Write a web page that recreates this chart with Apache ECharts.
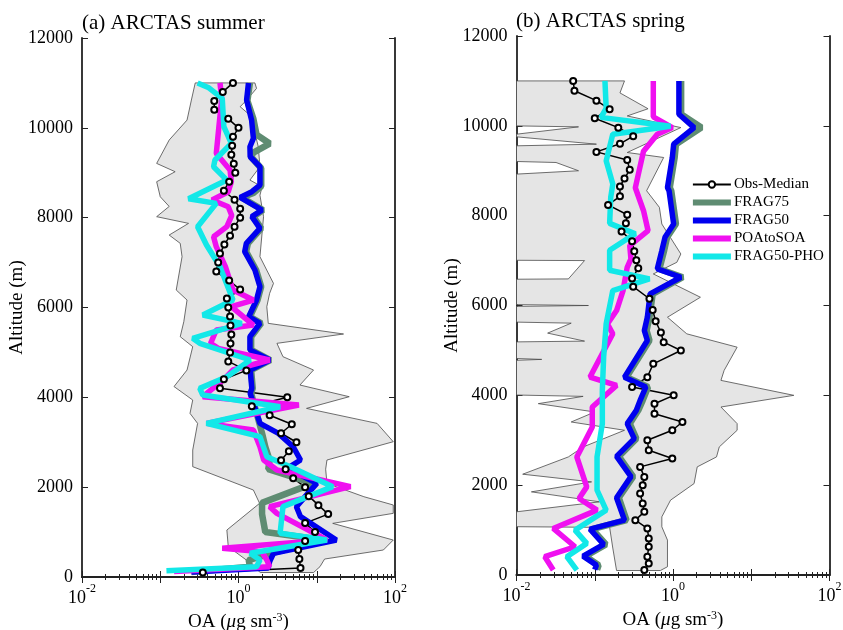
<!DOCTYPE html>
<html>
<head>
<meta charset="utf-8">
<title>ARCTAS OA profiles</title>
<script src="https://cdn.jsdelivr.net/npm/echarts@6/dist/echarts.min.js"></script>
<style>
  html, body { margin: 0; padding: 0; background: #fff; }
  #chart { width: 843px; height: 630px; }
</style>
</head>
<body>
<div id="chart"></div>
<script>
// ---- data: [OA (ug sm-3), altitude (m)] ----

// (a) ARCTAS summer
const sumBandLow = [[1.9, 100], [1.26, 378], [0.74, 675], [0.71, 1046], [1.86, 1640], [1.55, 1936], [0.26, 2456], [0.26, 2827],
  [0.30, 3420], [0.24, 3643], [0.26, 3940], [0.15, 4240], [0.22, 4608], [0.26, 5128], [0.18, 5350], [0.20, 5684], [0.22, 6166],
  [0.16, 6389], [0.19, 7131], [0.18, 7428], [0.13, 7613], [0.23, 7873], [0.09, 8022], [0.13, 8250], [0.10, 8466], [0.09, 8800],
  [0.155, 9023], [0.09, 9208], [0.13, 9728], [0.22, 10173], [0.25, 10618], [0.28, 11000]];
const sumBandHigh = [[9.1, 100], [11, 230], [12.6, 400], [71, 601], [95, 823], [16, 1194], [95, 1417], [95, 1603], [40, 1788],
  [13.5, 2085], [13, 2400], [13.5, 2604], [95, 3012], [59, 3420], [7.4, 3754], [26, 4014], [6.1, 4274], [9.1, 4608], [3.7, 4905],
  [3.1, 5202], [22, 5410], [2.4, 5647], [2.3, 6018], [2.5, 6315], [2.8, 6537], [1.88, 7131], [2.09, 8022], [1.88, 8500], [2.0, 8689],
  [1.40, 8837], [1.88, 9134], [1.79, 9579], [1.55, 10025], [1.40, 10284], [1.05, 10470], [1.27, 10618], [1.70, 10878], [1.62, 11000]];
const sumObs = [[0.35, 100], [6.2, 200], [6.0, 400], [5.8, 600], [7.1, 800], [9.5, 1000], [7.1, 1200], [14, 1400], [10.5, 1600],
  [7.9, 1800], [7.1, 2000], [5.0, 2200], [4.0, 2400], [3.5, 2600], [4.4, 2800], [5.5, 3000], [3.5, 3200], [4.8, 3400], [2.5, 3600],
  [1.48, 3800], [4.2, 4000], [0.58, 4200], [0.65, 4400], [1.26, 4600], [0.74, 4800], [0.78, 5000], [0.79, 5200], [0.81, 5400],
  [0.79, 5600], [0.78, 5800], [0.74, 6000], [0.71, 6200], [1.05, 6400], [0.76, 6600], [0.52, 6800], [0.55, 7000], [0.58, 7200],
  [0.66, 7400], [0.78, 7600], [0.89, 7800], [1.05, 8000], [1.05, 8200], [0.89, 8400], [0.65, 8600], [0.76, 8800], [0.91, 9000],
  [0.87, 9200], [0.81, 9400], [0.83, 9600], [0.85, 9800], [1.0, 10000], [0.74, 10200], [0.49, 10400], [0.49, 10600], [0.63, 10800],
  [0.85, 11000]];
const sumFrag75 = [[0.25, 110], [1.4, 230], [1.35, 378], [2.6, 527], [12, 823], [2.2, 1000], [2.0, 1400], [2.0, 1650], [9.0, 2085],
  [2.4, 2400], [2.5, 2600], [2.2, 2900], [2.0, 3200], [1.85, 3420], [1.45, 4088], [1.52, 4200], [1.45, 4608], [2.55, 4831],
  [1.45, 5054], [1.45, 5350], [1.95, 5647], [1.40, 5795], [1.75, 6166], [1.95, 6463], [1.68, 6834], [1.25, 7243], [1.32, 7428],
  [1.95, 7762], [1.55, 8022], [2.05, 8170], [1.10, 8450], [1.55, 8550], [1.95, 8700], [1.95, 9100], [1.45, 9350], [1.55, 9450],
  [2.5, 9650], [1.70, 9850], [1.55, 10200], [1.30, 10600], [1.40, 11000]];
const sumFrag50 = [[0.25, 110], [2.4, 200], [2.5, 341], [2.8, 527], [17.8, 823], [6.2, 1343], [5.5, 1566], [10, 2085], [4.2, 2419],
  [6.2, 2604], [5.0, 2901], [3.24, 3198], [1.88, 3420], [1.41, 4088], [1.48, 4200], [1.41, 4608], [2.51, 4831], [1.40, 5054],
  [1.40, 5350], [1.88, 5647], [1.35, 5795], [1.70, 6166], [1.88, 6463], [1.62, 6834], [1.20, 7243], [1.26, 7428], [1.88, 7762],
  [1.48, 8022], [2.0, 8170], [1.05, 8450], [1.48, 8578], [1.88, 8726], [1.88, 9134], [1.41, 9357], [1.40, 9580], [1.55, 9765],
  [1.47, 10173], [1.27, 10618], [1.34, 11000]];
const sumPoaToSoa = [[0.15, 120], [2.5, 230], [2.3, 378], [2.0, 560], [0.62, 640], [13.5, 823], [3.1, 1417], [2.5, 1566], [27, 2011],
  [3.1, 2382], [2.1, 2604], [1.88, 2901], [1.55, 3272], [0.39, 3420], [5.9, 3828], [0.35, 4014], [0.65, 4400], [0.85, 4608],
  [2.5, 4831], [0.55, 5090], [0.44, 5202], [0.52, 5499], [1.55, 5610], [0.81, 6018], [1.55, 6166], [0.85, 6389], [0.68, 6908],
  [0.52, 7354], [0.48, 7576], [0.71, 7800], [0.82, 8050], [0.74, 8244], [0.46, 8392], [0.74, 8578], [0.81, 8800], [0.78, 9060],
  [0.52, 9430], [0.56, 10000], [0.61, 10650], [0.58, 11000]];
const sumFrag50Pho = [[0.12, 141], [1.7, 230], [1.88, 378], [1.41, 527], [13.5, 823], [3.4, 973], [3.7, 1566], [16, 2011],
  [4.6, 2456], [2.3, 2679], [1.88, 3124], [0.39, 3420], [3.4, 3791], [0.35, 4051], [0.32, 4200], [0.71, 4460], [1.41, 4831],
  [0.32, 5202], [0.26, 5313], [1.10, 5647], [0.35, 5832], [0.85, 6166], [0.58, 6908], [0.39, 7391], [0.30, 7799], [0.52, 8318],
  [0.23, 8420], [0.71, 8837], [0.48, 9134], [0.50, 9283], [0.81, 9654], [0.65, 10025], [0.62, 10655], [0.41, 10900], [0.30, 11000]];

// (b) ARCTAS spring
const sprBandLow = [[0.19, 100], [0.17, 600], [0.155, 1059], [0.01, 1075], [0.01, 1407], [0.115, 1629], [0.0155, 1851],
  [0.091, 2073], [0.012, 2244], [0.046, 2629], [0.071, 2851], [0.24, 3222], [0.05, 3407], [0.10, 3629], [0.019, 3815],
  [0.071, 3977], [0.01, 4007], [0.01, 4780], [0.021, 4800], [0.01, 4820], [0.01, 5190], [0.074, 5207], [0.025, 5385],
  [0.05, 5607], [0.01, 5630], [0.01, 5980], [0.083, 6000], [0.01, 6020], [0.01, 6585], [0.046, 6592], [0.074, 7000],
  [0.01, 7007], [0.01, 8925], [0.062, 9000], [0.032, 9184], [0.01, 9206], [0.01, 9555], [0.105, 9592], [0.01, 9755],
  [0.01, 9814], [0.062, 9977], [0.01, 9999], [0.01, 11000]];
const sprBandHigh = [[0.69, 100], [0.85, 184], [0.85, 777], [0.72, 1073], [0.72, 1295], [0.93, 1666], [1.86, 2036], [2.04, 2407],
  [3.6, 2629], [3.9, 2851], [6.6, 3222], [6.6, 3370], [4.1, 3740], [35, 4000], [4.1, 4333], [4.5, 4554], [6.6, 5072], [1.5, 5369],
  [0.85, 5739], [2.24, 6184], [0.56, 6703], [1.12, 6962], [1.26, 7147], [0.72, 7814], [0.67, 8185], [0.46, 8555], [0.76, 9295],
  [0.26, 9406], [1.26, 9961], [0.26, 10220], [0.48, 10380], [0.21, 10733], [0.24, 11000]];
const sprObs = [[0.43, 110], [0.49, 258], [0.47, 406], [0.49, 628], [0.49, 814], [0.47, 1036], [0.33, 1221], [0.43, 1406],
  [0.41, 1592], [0.38, 1814], [0.41, 1999], [0.43, 2184], [0.38, 2407], [0.98, 2592], [0.49, 2777], [0.47, 2999], [0.98, 3222],
  [1.32, 3407], [0.58, 3592], [0.58, 3814], [1.02, 4000], [0.30, 4185], [0.47, 4405], [0.56, 4702], [1.26, 4998], [0.76, 5183],
  [0.70, 5400], [0.60, 5650], [0.55, 5900], [0.50, 6150], [0.31, 6420], [0.30, 6600], [0.36, 6830], [0.34, 7010], [0.32, 7210],
  [0.30, 7430], [0.22, 7650], [0.25, 7830], [0.26, 8020], [0.148, 8240], [0.21, 8430], [0.21, 8650], [0.24, 8830], [0.28, 9020],
  [0.26, 9240], [0.105, 9420], [0.21, 9600], [0.31, 9770], [0.20, 9960], [0.10, 10170], [0.155, 10370], [0.105, 10560],
  [0.055, 10780], [0.053, 11000]];
const sprFrag75 = [[0.107, 120], [0.112, 220], [0.076, 420], [0.139, 680], [0.093, 1020], [0.255, 1220], [0.203, 1720],
  [0.31, 2190], [0.203, 2640], [0.34, 3036], [0.28, 3370], [0.36, 3666], [0.41, 3888], [0.48, 4185], [0.255, 4405], [0.50, 5221],
  [0.46, 5443], [0.50, 5739], [0.55, 6258], [1.33, 6629], [0.67, 6814], [0.77, 7221], [0.84, 7518], [1.09, 7814], [0.95, 8555],
  [0.91, 8628], [1.05, 9295], [1.09, 9591], [2.3, 9961], [1.27, 10258], [1.27, 11000]];
const sprFrag50 = [[0.10, 120], [0.105, 220], [0.071, 420], [0.13, 680], [0.087, 1020], [0.24, 1220], [0.19, 1720], [0.29, 2190],
  [0.19, 2640], [0.32, 3036], [0.26, 3370], [0.34, 3666], [0.38, 3888], [0.45, 4185], [0.24, 4405], [0.47, 5221], [0.43, 5443],
  [0.47, 5739], [0.51, 6258], [1.26, 6629], [0.63, 6814], [0.72, 7221], [0.79, 7518], [1.02, 7814], [0.89, 8555], [0.85, 8628],
  [0.98, 9295], [1.02, 9591], [1.86, 9961], [1.19, 10258], [1.19, 11000]];
const sprPoaToSoa = [[0.0295, 110], [0.023, 407], [0.056, 629], [0.0295, 1037], [0.107, 1444], [0.063, 1703], [0.079, 1962],
  [0.059, 2629], [0.093, 3296], [0.093, 3740], [0.19, 4222], [0.087, 4407], [0.17, 5369], [0.145, 5591], [0.19, 5888],
  [0.23, 6333], [0.26, 6851], [0.29, 7037], [0.28, 7333], [0.48, 7666], [0.42, 8110], [0.33, 8622], [0.42, 9436], [0.63, 9813],
  [0.98, 9961], [0.56, 10200], [0.56, 11000]];
const sprFrag50Pho = [[0.059, 110], [0.044, 407], [0.079, 704], [0.056, 1000], [0.14, 1444], [0.107, 1888], [0.107, 2629],
  [0.125, 3370], [0.125, 4111], [0.13, 4852], [0.14, 5592], [0.17, 6333], [0.50, 6592], [0.155, 6784], [0.155, 7229],
  [0.33, 7599], [0.155, 7829], [0.16, 8407], [0.17, 8703], [0.14, 9221], [0.17, 9814], [0.93, 9990], [0.12, 10188],
  [0.14, 10388], [0.135, 11000]];

const panelTitles = ['(a) ARCTAS summer', '(b) ARCTAS spring'];
const seriesNames = ['Obs-Median', 'FRAG75', 'FRAG50', 'POAtoSOA', 'FRAG50-PHO'];

// ---- chart ----
const FONT = '"Liberation Serif", "Times New Roman", serif';
const AXIS_COLOR = '#222';
const COLORS = {
  'Obs-Median': '#000000',
  'FRAG75': '#5f8c72',
  'FRAG50': '#0000ee',
  'POAtoSOA': '#f010f0',
  'FRAG50-PHO': '#12e8e8'
};
const BAR_ICON = 'path://M0,0H38V6H0Z';

const grids = [
  { left: 82, top: 38, width: 313, height: 539 },
  { left: 516.5, top: 36, width: 313, height: 539 }
];

function expLabel(value) {
  const e = Math.round(Math.log10(value));
  if (e % 2 !== 0) return '';
  return '{b|10}{e|' + e + '}';
}

const labelRich = {
  b: { fontFamily: FONT, fontSize: 18, color: '#000', lineHeight: 24, verticalAlign: 'bottom' },
  e: { fontFamily: FONT, fontSize: 12, color: '#000', lineHeight: 12, verticalAlign: 'top' }
};

const nameRich = {
  n: { fontFamily: FONT, fontSize: 19, color: '#000', lineHeight: 20, verticalAlign: 'bottom' },
  mu: { fontFamily: FONT, fontSize: 19, fontStyle: 'italic', color: '#000', lineHeight: 20, verticalAlign: 'bottom' },
  sup: { fontFamily: FONT, fontSize: 12, color: '#000', lineHeight: 10, verticalAlign: 'top' }
};

const xAxis = [];
const yAxis = [];
[0, 1].forEach(function (g) {
  const tick = { show: true, inside: true, length: 6, lineStyle: { color: AXIS_COLOR, width: 1 } };
  const minor = { show: true, splitNumber: 9, length: 3, lineStyle: { color: AXIS_COLOR, width: 1 } };
  const line = { show: true, lineStyle: { color: AXIS_COLOR, width: 1.8 } };
  xAxis.push({
    type: 'log', logBase: 10, gridIndex: g, min: 0.01, max: 100, splitNumber: 4, position: 'bottom',
    axisLine: line, axisTick: tick, minorTick: minor, splitLine: { show: false },
    axisLabel: { formatter: expLabel, rich: labelRich, margin: 6 },
    name: '{n|OA (}{mu|μ}{n|g sm}{sup|-3}{n|)}',
    nameLocation: 'middle', nameGap: 15,
    nameTextStyle: { rich: nameRich }
  });
  xAxis.push({
    type: 'log', logBase: 10, gridIndex: g, min: 0.01, max: 100, splitNumber: 4, position: 'top',
    axisLine: line, axisTick: tick, minorTick: minor, splitLine: { show: false },
    axisLabel: { show: false }
  });
  yAxis.push({
    type: 'value', gridIndex: g, min: 0, max: 12000, interval: 2000, position: 'left',
    axisLine: line, axisTick: tick, splitLine: { show: false },
    axisLabel: { fontFamily: FONT, fontSize: 18, color: '#000', margin: 9,
      formatter: function (v) { return String(v); } },
    name: 'Altitude (m)', nameLocation: 'middle', nameGap: 55, nameMoveOverlap: false,
    nameTextStyle: { fontFamily: FONT, fontSize: 19, color: '#000' }
  });
  yAxis.push({
    type: 'value', gridIndex: g, min: 0, max: 12000, interval: 2000, position: 'right',
    axisLine: line, axisTick: tick, splitLine: { show: false },
    axisLabel: { show: false }
  });
});

function bandSeries(g, low, high) {
  return {
    type: 'custom', xAxisIndex: g * 2, yAxisIndex: g * 2, silent: true,
    data: [[1, 1000]],
    renderItem: function (params, api) {
      const pts = low.concat(high.slice().reverse()).map(function (p) { return api.coord(p); });
      return {
        type: 'polygon',
        shape: { points: pts },
        style: { fill: '#e5e5e5', stroke: '#4a4a4a', lineWidth: 0.8 }
      };
    }
  };
}

function modelSeries(g, name, data, width) {
  return {
    name: name, type: 'line', xAxisIndex: g * 2, yAxisIndex: g * 2, data: data,
    symbol: 'none', lineStyle: { color: COLORS[name], width: width },
    itemStyle: { color: COLORS[name] }
  };
}

function obsSeries(g, data) {
  return {
    name: 'Obs-Median', type: 'line', xAxisIndex: g * 2, yAxisIndex: g * 2, data: data,
    symbol: 'emptyCircle', symbolSize: 6, showSymbol: true,
    lineStyle: { color: '#000', width: 1.5 },
    itemStyle: { color: '#000', borderColor: '#000', borderWidth: 1.2 }
  };
}

const panels = [
  [sumBandLow, sumBandHigh, sumObs, sumFrag75, sumFrag50, sumPoaToSoa, sumFrag50Pho],
  [sprBandLow, sprBandHigh, sprObs, sprFrag75, sprFrag50, sprPoaToSoa, sprFrag50Pho]
];

const series = [];
panels.forEach(function (p, g) {
  series.push(bandSeries(g, p[0], p[1]));
  series.push(obsSeries(g, p[2]));
  series.push(modelSeries(g, 'FRAG75', p[3], 6.5));
  series.push(modelSeries(g, 'FRAG50', p[4], 5.5));
  series.push(modelSeries(g, 'POAtoSOA', p[5], 5.5));
  series.push(modelSeries(g, 'FRAG50-PHO', p[6], 5.5));
});

const legendData = seriesNames.map(function (name) {
  if (name === 'Obs-Median') {
    return { name: name, lineStyle: { width: 1.8 } };
  }
  return { name: name, icon: BAR_ICON };
});

const chart = echarts.init(document.getElementById('chart'));
chart.setOption({
  animation: false,
  backgroundColor: '#fff',
  title: [
    { text: panelTitles[0], left: 82, top: 13, padding: 0,
      textStyle: { fontFamily: FONT, fontSize: 21, fontWeight: 'normal', color: '#000' } },
    { text: panelTitles[1], left: 516, top: 11, padding: 0,
      textStyle: { fontFamily: FONT, fontSize: 21, fontWeight: 'normal', color: '#000' } }
  ],
  legend: {
    data: legendData, orient: 'vertical', left: 692, top: 177,
    itemWidth: 38, itemHeight: 8, itemGap: 3, padding: 0,
    textStyle: { fontFamily: FONT, fontSize: 15, color: '#000', padding: [0, 0, 0, -2] }
  },
  grid: grids.map(function (g) { return Object.assign({ outerBoundsMode: 'none', containLabel: false }, g); }),
  xAxis: xAxis,
  yAxis: yAxis,
  series: series
});
</script>
</body>
</html>
